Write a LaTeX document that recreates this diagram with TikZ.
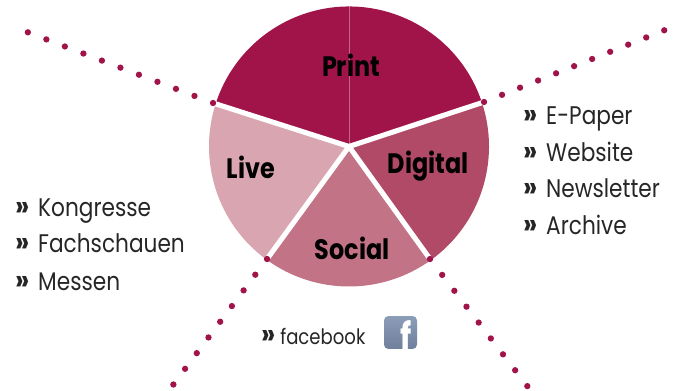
\documentclass[tikz,border=0pt]{standalone}
\usepackage{fontspec}
\setmainfont[FakeStretch=0.85]{Poppins}
\usepackage{xcolor}
\definecolor{printred}{HTML}{A0144A}
\definecolor{digitalred}{HTML}{B04A66}
\definecolor{socialred}{HTML}{C27386}
\definecolor{liverose}{HTML}{D9A5B0}
\definecolor{listgray}{HTML}{262626}
\definecolor{fbtop}{HTML}{8C9DB8}
\definecolor{fbmid}{HTML}{3F66AE}
\definecolor{fbbottom}{HTML}{6F7F9C}
\newcommand{\chevron}[1]{\makebox[#1][l]{\fontsize{17}{17}\selectfont\bfseries »}}
\tikzset{
    dotline/.style={printred, line width=3.6pt, line cap=round, dash pattern=on 0pt off #1},
    gapline/.style={white, line width=2.9pt},
    sectorlabel/.style={font=\fontsize{16}{18}\selectfont\bfseries, text=black, inner sep=0pt},
    listitem/.style={font=\fontsize{14.5}{18}\selectfont, text=listgray, anchor=base west, inner sep=0pt},
}
\begin{document}
\begin{tikzpicture}[x=0.02cm, y=-0.02cm]
    \useasboundingbox (0,0) rectangle (675,391);

    \coordinate (center) at (349,146.5);
    % pie
    \foreach \from/\to/\col in {18/162/printred, 162/234/liverose, 234/306/socialred, 306/378/digitalred}
        \fill[\col] (center) -- ++(\from:140 and -140) arc[start angle=-\from, end angle=-\to, radius=140] -- cycle;
    \draw[white, opacity=.35, line width=.4pt] (center) -- (349,6.5);

    \coordinate (leftend) at (27,32);
    \coordinate (leftpie) at (213,103);
    \coordinate (rightend) at (665,30);
    \coordinate (rightpie) at (484,102);
    \coordinate (lowleftend) at (173,385);
    \coordinate (lowleftpie) at (267,259);
    \coordinate (lowrightend) at (528,387);
    \coordinate (lowrightpie) at (430,259);

    \draw[gapline] (center) -- (leftpie);
    \draw[gapline] (center) -- (rightpie);
    \draw[gapline] (center) -- (lowleftpie);
    \draw[gapline] (center) -- (lowrightpie);

    % dotted rays
    \draw[dotline=11.28pt] (leftpie) -- (leftend);
    \draw[dotline=11.04pt] (rightpie) -- (rightend);
    \draw[dotline=11.14pt] (lowleftpie) -- (lowleftend);
    \draw[dotline=11.39pt] (lowrightpie) -- (lowrightend);

    \node[sectorlabel] (print) at (351,65) {Print};
    \node[sectorlabel] (live) at (251,167) {Live};
    \node[sectorlabel] (digital) at (428,166) {Digital};
    \node[sectorlabel] (social) at (352,248) {Social};

    % lists
    \node[listitem] (epaper) at (523,125) {\chevron{13pt}E-Paper};
    \node[listitem] (website) at (523,162) {\chevron{13pt}Website};
    \node[listitem] (newsletter) at (523,198) {\chevron{13pt}Newsletter};
    \node[listitem] (archive) at (523,235) {\chevron{13pt}Archive};

    \node[listitem] (kongresse) at (15,217) {\chevron{13pt}Kongresse};
    \node[listitem] (fachschauen) at (15,253) {\chevron{13pt}Fachschauen};
    \node[listitem] (messen) at (15,290) {\chevron{13pt}Messen};

    \node[listitem, font=\fontsize{12.1}{15}\selectfont] (facebook) at (261,344) {\chevron{10.8pt}facebook};

    % icon
    \node[rounded corners=2.5pt, minimum size=0.66cm, inner sep=0pt,
        top color=fbtop, middle color=fbmid, bottom color=fbbottom] (fbicon) at (400.5,332.5) {};
    \node[text=white, font=\fontsize{21}{21}\selectfont\bfseries, inner sep=0pt] (fbletter) at (406,335) {f};
\end{tikzpicture}
\end{document}
